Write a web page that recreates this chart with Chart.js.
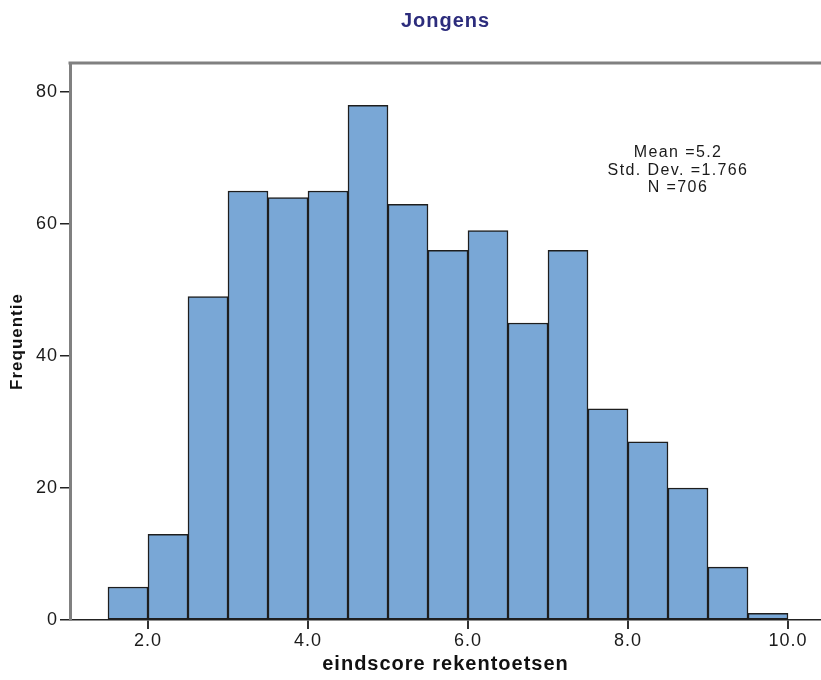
<!DOCTYPE html>
<html>
<head>
<meta charset="utf-8">
<script src="https://cdn.jsdelivr.net/npm/chart.js@4/dist/chart.umd.min.js"></script>
<style>
  body { margin: 0; background: #fff; }
  canvas { display: block; }
</style>
</head>
<body>
<canvas id="hist" width="821" height="680"></canvas>
<script>
// histogram data (bin start, width 0.5)
const binStart = [1.5, 2.0, 2.5, 3.0, 3.5, 4.0, 4.5, 5.0, 5.5, 6.0, 6.5, 7.0, 7.5, 8.0, 8.5, 9.0, 9.5];
const counts = [5, 13, 49, 65, 64, 65, 78, 63, 56, 59, 45, 56, 32, 27, 20, 8, 1];
const binWidth = 0.5;
const xTicks = [2, 4, 6, 8, 10];
const yTicks = [0, 20, 40, 60, 80];
const statLines = ['Mean =5.2', 'Std. Dev. =1.766', 'N =706'];

const FONT = '"Liberation Sans", Arial, sans-serif';

// letter spacing + top frame line + stats box
const decor = {
    id: 'decor',
    beforeDraw(chart) {
        chart.ctx.letterSpacing = '1px';
    },
    beforeDatasetsDraw(chart) {
        const ctx = chart.ctx;
        const a = chart.chartArea;
        ctx.save();
        ctx.strokeStyle = '#808080';
        ctx.lineWidth = 3;
        ctx.beginPath();
        ctx.moveTo(a.left - 1.5, a.top);
        ctx.lineTo(a.right, a.top);
        ctx.stroke();
        ctx.restore();
    },
    afterDraw(chart) {
        const ctx = chart.ctx;
        ctx.save();
        ctx.letterSpacing = '1.4px';
        ctx.font = '16px ' + FONT;
        ctx.fillStyle = '#1a1a1a';
        ctx.textAlign = 'center';
        ctx.textBaseline = 'middle';
        statLines.forEach((t, i) => {
            ctx.fillText(t, 678, 153 + i * 17.5);
        });
        ctx.restore();
    }
};

const ctx = document.getElementById('hist').getContext('2d');
new Chart(ctx, {
    type: 'bar',
    data: {
        datasets: [{
            data: binStart.map((s, i) => ({ x: s + binWidth / 2, y: counts[i] })),
            backgroundColor: '#79a7d6',
            borderColor: '#1e1e1e',
            borderWidth: 1.5,
            borderSkipped: false,
            barPercentage: 1,
            categoryPercentage: 1
        }]
    },
    options: {
        responsive: false,
        animation: false,
        layout: { padding: 0 },
        plugins: {
            legend: { display: false },
            tooltip: { enabled: false },
            title: {
                display: true,
                text: 'Jongens',
                fullSize: false,
                color: '#2c2c7c',
                font: { family: FONT, size: 20, weight: 'bold' },
                padding: { top: 9, bottom: 30 }
            }
        },
        scales: {
            x: {
                type: 'linear',
                min: 1.025,
                max: 10.4125,
                offset: false,
                afterFit(scale) { scale.height = 60; },
                afterBuildTicks(scale) { scale.ticks = xTicks.map(v => ({ value: v })); },
                grid: {
                    offset: false,
                    drawOnChartArea: false,
                    color: '#333',
                    lineWidth: 2,
                    tickLength: 9
                },
                border: { color: '#222', width: 1.5 },
                ticks: {
                    color: '#1a1a1a',
                    padding: 1,
                    font: { family: FONT, size: 18 },
                    callback: v => v.toFixed(1)
                },
                title: {
                    display: true,
                    text: 'eindscore rekentoetsen',
                    color: '#111',
                    font: { family: FONT, size: 20, weight: 'bold' },
                    padding: { top: 0, bottom: 4 }
                }
            },
            y: {
                min: 0,
                max: 84.4,
                afterFit(scale) { scale.width = 70; },
                afterBuildTicks(scale) { scale.ticks = yTicks.map(v => ({ value: v })); },
                grid: {
                    drawOnChartArea: false,
                    color: '#222',
                    lineWidth: 1.5,
                    tickLength: 10
                },
                border: { color: '#808080', width: 3 },
                ticks: {
                    color: '#1a1a1a',
                    padding: 2,
                    font: { family: FONT, size: 18 }
                },
                title: {
                    display: true,
                    text: 'Frequentie',
                    color: '#111',
                    font: { family: FONT, size: 17, weight: 'bold' },
                    padding: { top: 7, bottom: 0 }
                }
            }
        }
    },
    plugins: [decor]
});
</script>
</body>
</html>
